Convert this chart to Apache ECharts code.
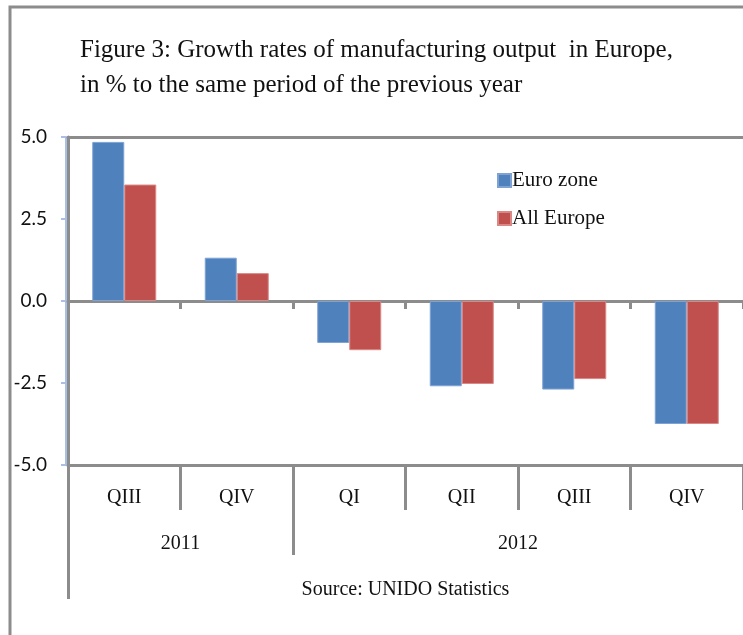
<!DOCTYPE html>
<html>
<head>
<meta charset="utf-8">
<script src="https://cdn.jsdelivr.net/npm/echarts@6/dist/echarts.min.js"></script>
<style>
html,body{margin:0;padding:0;background:#fff;}
#chart{width:743px;height:635px;}
</style>
</head>
<body>
<div id="chart"></div>
<script>
var quarters = ['QIII', 'QIV', 'QI', 'QII', 'QIII', 'QIV'];
var years = ['2011', '2012'];
var yearCounts = [2, 4];
var euroZone = [4.85, 1.32, -1.28, -2.6, -2.7, -3.75];
var allEurope = [3.55, 0.85, -1.5, -2.53, -2.38, -3.75];
var yTicks = [-5, -2.5, 0, 2.5, 5];
var sourceText = 'Source: UNIDO Statistics';
var titleText = 'Figure 3: Growth rates of manufacturing output  in Europe,\nin % to the same period of the previous year';

// derive year label centers and boundaries from counts
var yearCenters = [], yearBounds = [0], acc = 0;
yearCounts.forEach(function (c) { yearCenters.push(acc + c / 2); acc += c; yearBounds.push(acc); });
var yearBoundTicks = yearBounds.slice(0, yearBounds.length - 1);

var gray = '#8c8c8c';
var serif = '"Liberation Serif", "DejaVu Serif", serif';

var chart = echarts.init(document.getElementById('chart'));
chart.setOption({
  animation: false,
  backgroundColor: '#fff',
  title: {
    text: titleText,
    left: 75, top: 28,
    textStyle: { fontFamily: serif, fontSize: 25, fontWeight: 'normal', color: '#111', lineHeight: 35 }
  },
  legend: {
    orient: 'vertical', left: 492, top: 165,
    itemWidth: 13, itemHeight: 13, itemGap: 17, icon: 'rect',
    textStyle: { fontFamily: serif, fontSize: 21, color: '#111', padding: [0, 0, 0, -4] },
    data: ['Euro zone', 'All Europe']
  },
  graphic: [{
    type: 'polyline', shape: { points: [[10, 640], [10, 7], [750, 7]] },
    style: { fill: null, stroke: gray, lineWidth: 3 }, silent: true
  }],
  grid: {
    left: 68, right: -2, top: 137, bottom: 170, show: false
  },
  xAxis: [{
    type: 'category', data: quarters, position: 'bottom',
    axisLine: { onZero: true, lineStyle: { color: gray, width: 3 } },
    axisTick: { show: true, length: 8, lineStyle: { color: gray, width: 3 } },
    axisLabel: { show: false }
  }, {
    type: 'category', data: quarters, position: 'bottom',
    axisLine: { show: true, onZero: false, lineStyle: { color: gray, width: 3 } },
    axisTick: { show: true, length: 45, lineStyle: { color: gray, width: 3 } },
    axisLabel: { margin: 23, fontFamily: serif, fontSize: 20, color: '#111' }
  }, {
    type: 'value', min: 0, max: quarters.length, position: 'bottom',
    axisLine: { show: false, onZero: false }, splitLine: { show: false },
    axisTick: { show: true, length: 90, customValues: yearBoundTicks, lineStyle: { color: gray, width: 3 } },
    axisLabel: {
      margin: 69, fontFamily: serif, fontSize: 20, color: '#111',
      customValues: yearCenters,
      formatter: function (v) { var i = yearCenters.indexOf(v); return i >= 0 ? years[i] : ''; }
    }
  }, {
    type: 'value', min: 0, max: quarters.length, position: 'bottom',
    axisLine: { show: false, onZero: false }, splitLine: { show: false },
    axisTick: { show: true, length: 134, customValues: [0], lineStyle: { color: gray, width: 3 } },
    axisLabel: {
      margin: 115, fontFamily: serif, fontSize: 20, color: '#111',
      customValues: [quarters.length / 2],
      formatter: function () { return sourceText; }
    }
  }, {
    type: 'category', data: quarters, position: 'top',
    axisLine: { show: true, onZero: false, lineStyle: { color: gray, width: 3 } },
    axisTick: { show: false }, axisLabel: { show: false }
  }],
  yAxis: [{
    type: 'value', min: yTicks[0], max: yTicks[yTicks.length - 1], interval: 2.5,
    position: 'left', offset: 2,
    axisLine: { show: true, onZero: false, lineStyle: { color: '#a9bfe4', width: 2 } },
    axisTick: { show: true, length: 5, lineStyle: { color: '#a9bfe4', width: 2 } },
    splitLine: { show: false },
    axisLabel: {
      margin: 19, fontFamily: 'Lato, "Liberation Sans", sans-serif', fontSize: 19, color: '#111',
      formatter: function (v) { return v.toFixed(1); }
    }
  }, {
    type: 'value', min: yTicks[0], max: yTicks[yTicks.length - 1], interval: 2.5,
    position: 'left', offset: 0,
    axisLine: { show: true, onZero: false, lineStyle: { color: gray, width: 3 } },
    axisTick: { show: false }, axisLabel: { show: false }, splitLine: { show: false }
  }],
  series: [{
    name: 'Euro zone', type: 'bar', data: euroZone, xAxisIndex: 0, yAxisIndex: 0,
    barWidth: 32, barGap: '0%',
    itemStyle: { color: '#4f81bd', borderColor: '#7ea2d4', borderWidth: 1 }
  }, {
    name: 'All Europe', type: 'bar', data: allEurope, xAxisIndex: 0, yAxisIndex: 0,
    barWidth: 32, barGap: '0%',
    itemStyle: { color: '#c0504d', borderColor: '#d98886', borderWidth: 1 }
  }]
});
</script>
</body>
</html>
